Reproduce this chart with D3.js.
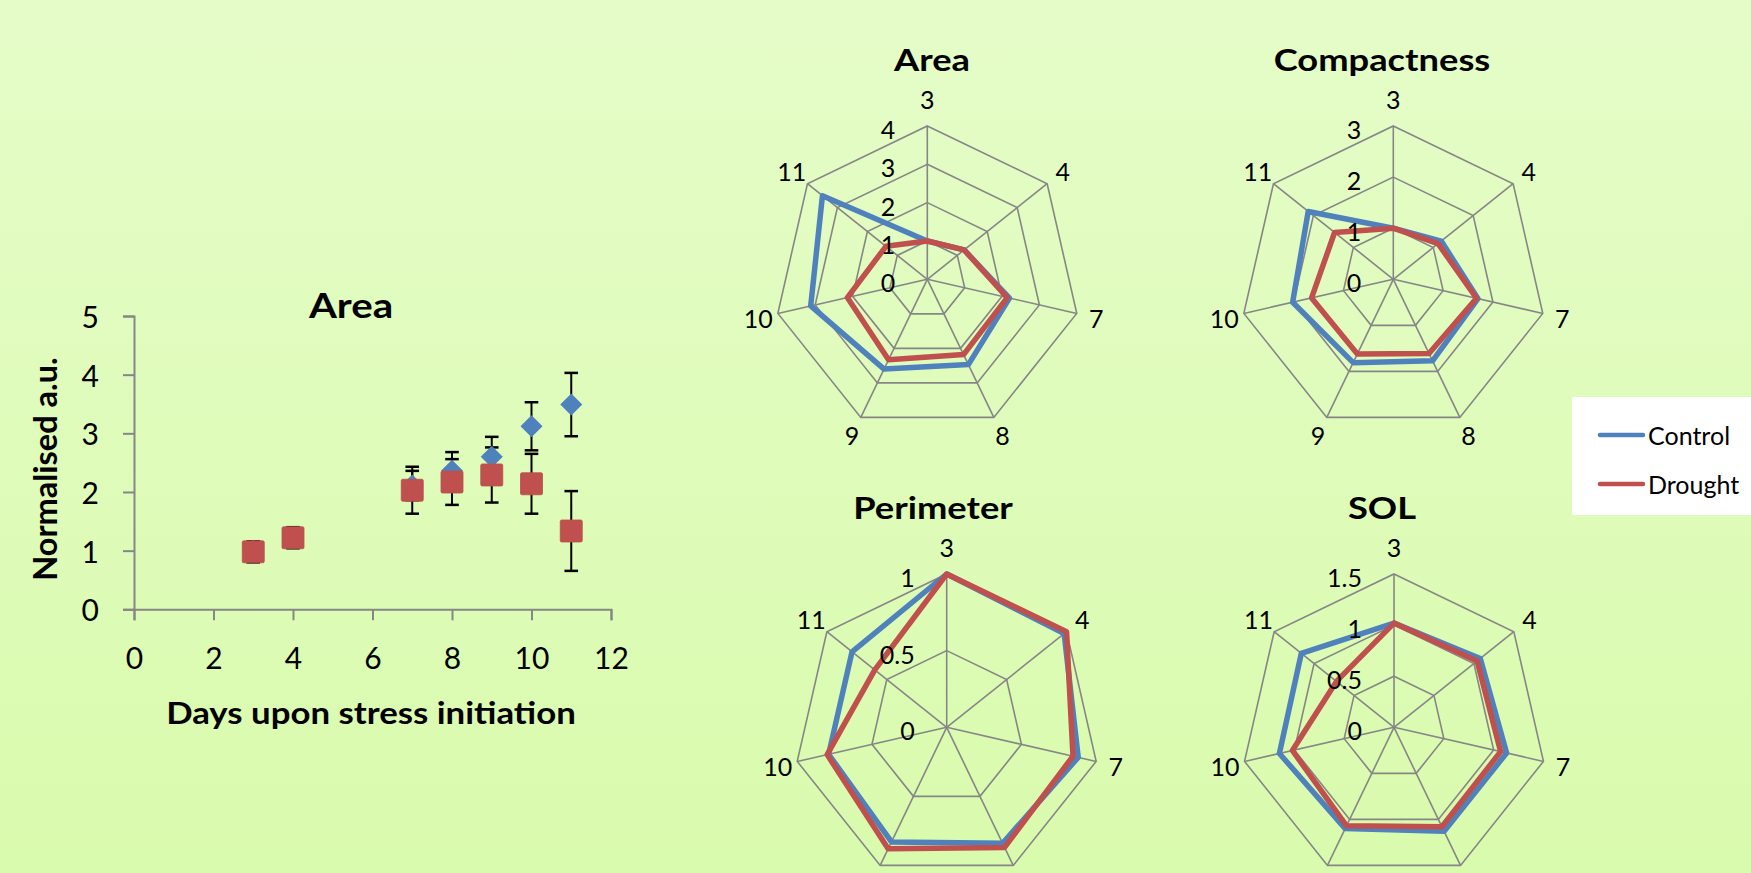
<!DOCTYPE html>
<html><head><meta charset="utf-8">
<script src="https://cdn.jsdelivr.net/npm/d3@7"></script>
<style>
html,body{margin:0;padding:0;overflow:hidden;}
svg{display:block;font-family:Lato,"Noto Sans",sans-serif;}
</style></head>
<body>
<script>
// ---------- DATA ----------
const days = [3, 4, 7, 8, 9, 10, 11];
const seriesNames = ["Control", "Drought"];
const seriesColors = ["#4f81bd", "#c0504d"];

// scatter "Area" panel
const scatterControl = [1.0, 1.22, 2.11, 2.36, 2.60, 3.12, 3.49];
const scatterControlErr = [0, 0, 0.25, 0.32, 0.34, 0.41, 0.54];
const scatterDrought = [0.98, 1.22, 2.03, 2.17, 2.29, 2.14, 1.335];
const scatterDroughtErr = [0.18, 0.18, 0.40, 0.39, 0.47, 0.51, 0.68];
const scatterXTicks = [0, 2, 4, 6, 8, 10, 12];
const scatterYTicks = [0, 1, 2, 3, 4, 5];

// radar panels
const areaControl = [1.0, 1.23, 2.2, 2.47, 2.6, 3.12, 3.5];
const areaDrought = [1.0, 1.23, 2.14, 2.18, 2.33, 2.14, 1.38];
const areaTicks = [0, 1, 2, 3, 4];

const compControl = [1.0, 1.2, 1.7, 1.77, 1.81, 2.02, 2.13];
const compDrought = [1.0, 1.12, 1.67, 1.61, 1.62, 1.64, 1.47];
const compTicks = [0, 1, 2, 3];

const perimControl = [1.0, 0.98, 0.88, 0.84, 0.83, 0.79, 0.79];
const perimDrought = [1.0, 1.0, 0.845, 0.87, 0.88, 0.80, 0.60];
const perimTicks = [0, 0.5, 1];

const solControl = [1.02, 1.08, 1.13, 1.13, 1.10, 1.15, 1.16];
const solDrought = [1.02, 1.04, 1.07, 1.08, 1.07, 1.02, 0.72];
const solTicks = [0, 0.5, 1, 1.5];

// ---------- DRAW ----------
const W = 1751, H = 873;
const svg = d3.select("body").append("svg").attr("width", W).attr("height", H);
const defs = svg.append("defs");
const grad = defs.append("linearGradient").attr("id", "bg").attr("x1", 0).attr("y1", 0).attr("x2", 0).attr("y2", 1);
grad.append("stop").attr("offset", "0%").attr("stop-color", "#e5fcc8");
grad.append("stop").attr("offset", "100%").attr("stop-color", "#d9fbad");
svg.append("rect").attr("width", W).attr("height", H).attr("fill", "url(#bg)");

const gridColor = "#868686";

// bold title text, slightly widened to mimic the original typeface
function boldText(parent, x, y, txt, size, sx, rot) {
  parent.append("g").attr("transform", `translate(${x},${y}) rotate(${rot || 0}) scale(${sx},1)`)
    .append("text").attr("text-anchor", "middle").attr("dominant-baseline", "central")
    .style("font-size", size + "px").style("font-weight", "bold").text(txt);
}

// ----- scatter -----
const x = d3.scaleLinear().domain([0, 12]).range([134, 611]);
const y = d3.scaleLinear().domain([0, 5]).range([609.3, 316]);
const sc = svg.append("g");

const yAxis = sc.append("g").attr("transform", `translate(${x(0)},0)`)
  .call(d3.axisLeft(y).tickValues(scatterYTicks).tickSize(11).tickPadding(24).tickFormat(d3.format("d")));
const xAxis = sc.append("g").attr("transform", `translate(0,${y(0)})`)
  .call(d3.axisBottom(x).tickValues(scatterXTicks).tickSize(11).tickPadding(27).tickFormat(d3.format("d")));
[xAxis, yAxis].forEach(a => {
  a.select(".domain").attr("stroke", gridColor).attr("stroke-width", 2);
  a.selectAll(".tick line").attr("stroke", gridColor).attr("stroke-width", 2);
  a.selectAll(".tick text").attr("fill", "#000").style("font-size", "30px").style("font-family", "Lato");
});
yAxis.selectAll(".tick text").attr("dy", "0.38em");

boldText(sc, 351, 305, "Area", 35, 1.15);
boldText(sc, 371, 712, "Days upon stress initiation", 30, 1.16);
boldText(sc, 44, 469, "Normalised a.u.", 32.5, 1.0, -90);

const scSeries = [
  {mean: scatterControl, err: scatterControlErr, color: seriesColors[0], shape: "diamond"},
  {mean: scatterDrought, err: scatterDroughtErr, color: seriesColors[1], shape: "square"}
];
const capW = 6.8;
scSeries.forEach(s => {
  const eg = sc.append("g");
  days.forEach((d, i) => {
    if (s.err[i] <= 0) return;
    const cx = x(d), y1 = y(s.mean[i] + s.err[i]), y0 = y(s.mean[i] - s.err[i]);
    eg.append("line").attr("x1", cx).attr("x2", cx).attr("y1", y1).attr("y2", y0).attr("stroke", "#000").attr("stroke-width", 2);
    eg.append("line").attr("x1", cx - capW).attr("x2", cx + capW).attr("y1", y1).attr("y2", y1).attr("stroke", "#000").attr("stroke-width", 2.5);
    eg.append("line").attr("x1", cx - capW).attr("x2", cx + capW).attr("y1", y0).attr("y2", y0).attr("stroke", "#000").attr("stroke-width", 2.5);
  });
});
scSeries.forEach(s => {
  const mg = sc.append("g");
  days.forEach((d, i) => {
    const cx = x(d), cy = y(s.mean[i]);
    if (s.shape === "diamond") {
      mg.append("path").attr("d", `M${cx},${cy - 11}L${cx + 11},${cy}L${cx},${cy + 11}L${cx - 11},${cy}Z`)
        .attr("fill", s.color);
    } else {
      mg.append("rect").attr("x", cx - 11).attr("y", cy - 11).attr("width", 22).attr("height", 22)
        .attr("rx", 1.5).attr("fill", s.color).attr("stroke", "#b5504c").attr("stroke-width", 0.8);
    }
  });
});

// ----- radars -----
const R = 153.3;
const radars = [
  {title: "Area", cx: 927.3, cy: 279.3, tx: 932, ty: 59, ticks: areaTicks, data: [areaControl, areaDrought]},
  {title: "Compactness", cx: 1393.3, cy: 279.3, tx: 1382, ty: 59, ticks: compTicks, data: [compControl, compDrought]},
  {title: "Perimeter", cx: 946.7, cy: 727.3, tx: 933, ty: 507, ticks: perimTicks, data: [perimControl, perimDrought]},
  {title: "SOL", cx: 1394, cy: 727.3, tx: 1382, ty: 507, ticks: solTicks, data: [solControl, solDrought]}
];
const n = days.length;
const ang = d3.scaleLinear().domain([0, n]).range([0, 2 * Math.PI]);

radars.forEach(rd => {
  const g = svg.append("g").attr("transform", `translate(${rd.cx},${rd.cy})`);
  const maxV = d3.max(rd.ticks);
  const r = d3.scaleLinear().domain([0, maxV]).range([0, R]);
  const pt = (i, v) => [Math.sin(ang(i)) * r(v), -Math.cos(ang(i)) * r(v)];

  rd.ticks.filter(t => t > 0).forEach(t => {
    g.append("path").attr("d", d3.line()(d3.range(n).map(i => pt(i, t))) + "Z")
      .attr("fill", "none").attr("stroke", gridColor).attr("stroke-width", 1.6);
  });
  d3.range(n).forEach(i => {
    const p = pt(i, maxV);
    g.append("line").attr("x1", 0).attr("y1", 0).attr("x2", p[0]).attr("y2", p[1])
      .attr("stroke", gridColor).attr("stroke-width", 1.6);
  });
  rd.data.forEach((vals, si) => {
    g.append("path").attr("d", d3.line()(vals.map((v, i) => pt(i, v))) + "Z")
      .attr("fill", "none").attr("stroke", seriesColors[si]).attr("stroke-width", 5.5)
      .attr("stroke-linejoin", "round");
  });
  rd.ticks.forEach(t => {
    g.append("text").attr("x", -32).attr("y", -r(t) + 3).attr("text-anchor", "end").attr("dominant-baseline", "central")
      .style("font-size", "25px").text(t);
  });
  days.forEach((d, i) => {
    const off = i === 0 ? 27 : 20;
    const a = ang(i);
    const lx = Math.sin(a) * (R + off), ly = -Math.cos(a) * (R + off);
    g.append("text").attr("x", lx).attr("y", ly).attr("text-anchor", "middle").attr("dominant-baseline", "central")
      .style("font-size", "25px").text(d);
  });
  boldText(svg, rd.tx, rd.ty, rd.title, 30.5, 1.19);
});

// ----- legend -----
const lg = svg.append("g");
lg.append("rect").attr("x", 1572).attr("y", 397).attr("width", 190).attr("height", 118).attr("fill", "#fff");
seriesNames.forEach((nm, i) => {
  const ly = 435 + i * 49;
  lg.append("line").attr("x1", 1600).attr("x2", 1643).attr("y1", ly).attr("y2", ly)
    .attr("stroke", seriesColors[i]).attr("stroke-width", 4.5).attr("stroke-linecap", "round");
  lg.append("text").attr("x", 1648).attr("y", ly).attr("dominant-baseline", "central").style("font-size", "25px").text(nm);
});
</script>
</body></html>
